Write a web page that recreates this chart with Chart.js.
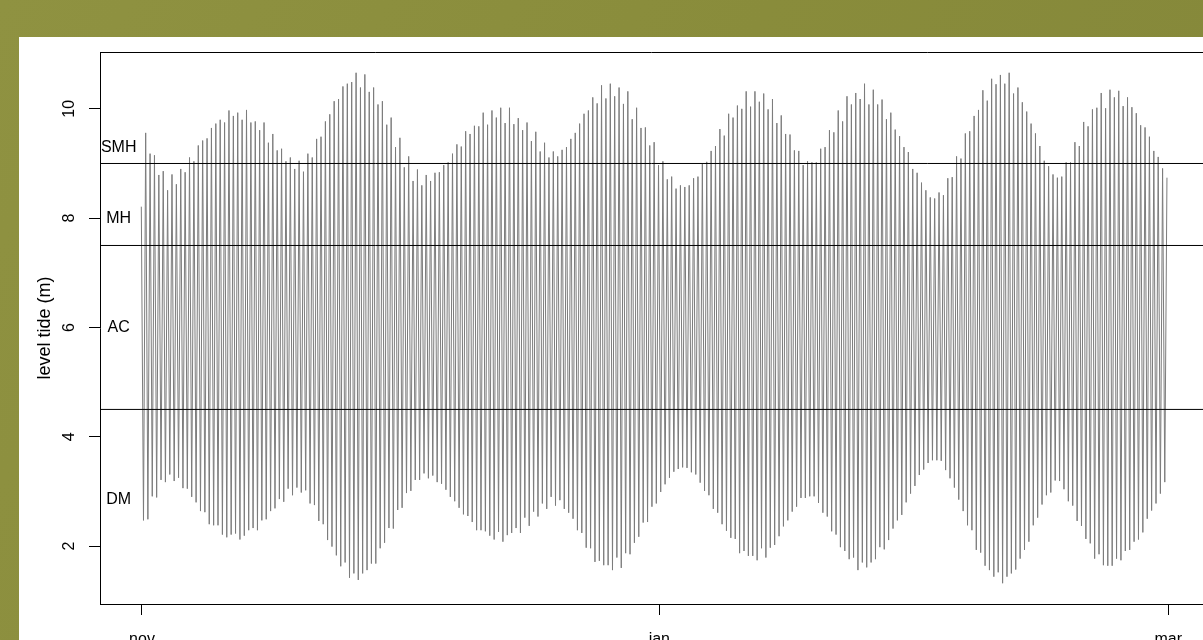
<!DOCTYPE html>
<html>
<head>
<meta charset="utf-8">
<script src="https://cdn.jsdelivr.net/npm/chart.js@4.4.0/dist/chart.umd.min.js"></script>
<style>
html, body { margin: 0; padding: 0; overflow: hidden; background: #8b8e3e; }
#wrap { width: 1203px; height: 640px; }
</style>
</head>
<body>
<div id="wrap"><canvas id="graphCanvasTide" width="1203" height="640"></canvas></div>
<script>
// high water of each tide cycle (m)
var highTides = [
    8.21, 9.56, 9.18, 9.15, 8.79, 8.86, 8.51, 8.80, 8.62, 8.90,
    8.84, 9.11, 9.04, 9.33, 9.42, 9.46, 9.65, 9.73, 9.80, 9.75,
    9.97, 9.87, 9.93, 9.80, 9.98, 9.75, 9.77, 9.61, 9.75, 9.38,
    9.54, 9.24, 9.27, 9.04, 9.11, 8.90, 9.05, 8.85, 9.18, 9.11,
    9.45, 9.49, 9.77, 9.90, 10.14, 10.18, 10.41, 10.46, 10.49, 10.66,
    10.39, 10.63, 10.31, 10.39, 10.08, 10.14, 9.71, 9.84, 9.30, 9.47,
    8.93, 9.13, 8.68, 8.89, 8.60, 8.79, 8.68, 8.83, 8.84, 8.97,
    9.02, 9.18, 9.35, 9.31, 9.59, 9.54, 9.69, 9.68, 9.93,
    9.71, 9.97, 9.84, 10.02, 9.74, 10.02, 9.72, 9.83, 9.61, 9.75,
    9.41, 9.58, 9.22, 9.38, 9.11, 9.22, 9.13, 9.25, 9.30, 9.45,
    9.56, 9.73, 9.91, 9.97, 10.21, 10.10, 10.43, 10.19, 10.46, 10.23,
    10.39, 10.09, 10.32, 9.81, 10.02, 9.65, 9.66, 9.33, 9.39, 8.97,
    9.04, 8.71, 8.76, 8.54, 8.60, 8.57, 8.60, 8.73, 8.76, 8.99,
    9.03, 9.23, 9.32, 9.63, 9.51, 9.91, 9.84, 10.06, 10.00, 10.32,
    10.04, 10.32, 10.13, 10.28, 9.99, 10.18, 9.74, 9.88, 9.54, 9.53,
    9.24, 9.23, 8.97, 9.04, 9.02, 9.02, 9.27, 9.30, 9.61,
    9.57, 9.97, 9.77, 10.23, 10.08, 10.29, 10.18, 10.46, 10.08, 10.35,
    10.08, 10.17, 9.81, 9.93, 9.62, 9.50, 9.30, 9.21, 8.90, 8.83,
    8.65, 8.51, 8.38, 8.36, 8.47, 8.42, 8.73, 8.75, 9.13, 9.09,
    9.55, 9.59, 9.87, 9.98, 10.34, 10.15, 10.55, 10.45, 10.62, 10.46,
    10.66, 10.28, 10.39, 10.12, 9.95, 9.73, 9.55, 9.32, 9.05, 8.95,
    8.80, 8.74, 8.76, 9.02, 9.02, 9.39, 9.32, 9.76, 9.68, 9.99,
    10.02, 10.29, 10.01, 10.35, 10.21, 10.33, 10.05, 10.21, 10.03, 9.92,
    9.70, 9.66, 9.49, 9.23, 9.12, 8.91, 8.74
];

// low water following each high (m)
var lowTides = [
    2.47, 2.49, 2.91, 2.89, 3.21, 3.17, 3.31, 3.19, 3.25, 3.06,
    3.05, 2.90, 2.80, 2.64, 2.62, 2.40, 2.38, 2.38, 2.21, 2.16,
    2.21, 2.23, 2.12, 2.19, 2.29, 2.33, 2.29, 2.47, 2.49, 2.64,
    2.69, 2.86, 2.81, 3.05, 2.93, 3.07, 2.98, 3.02, 2.78, 2.75,
    2.46, 2.40, 2.11, 1.99, 1.83, 1.63, 1.70, 1.42, 1.50, 1.38,
    1.50, 1.56, 1.68, 1.68, 1.96, 2.06, 2.33, 2.32, 2.66, 2.70,
    2.97, 3.01, 3.21, 3.21, 3.33, 3.24, 3.29, 3.17, 3.14, 3.03,
    2.90, 2.82, 2.70, 2.58, 2.55, 2.44, 2.29, 2.29, 2.27,
    2.19, 2.12, 2.26, 2.08, 2.20, 2.24, 2.33, 2.24, 2.52, 2.37,
    2.63, 2.54, 2.78, 2.68, 2.90, 2.74, 2.84, 2.68, 2.61, 2.50,
    2.29, 2.24, 1.97, 1.96, 1.71, 1.73, 1.65, 1.65, 1.56, 1.79,
    1.60, 1.87, 1.85, 2.06, 2.17, 2.43, 2.44, 2.72, 2.78, 2.99,
    3.13, 3.25, 3.36, 3.41, 3.44, 3.43, 3.35, 3.31, 3.16, 3.01,
    2.93, 2.68, 2.61, 2.40, 2.28, 2.15, 2.13, 1.87, 1.91, 1.82,
    1.82, 1.74, 1.96, 1.79, 1.97, 2.02, 2.18, 2.36, 2.47, 2.63,
    2.72, 2.88, 2.88, 2.91, 2.91, 2.79, 2.61, 2.54, 2.27,
    2.21, 1.98, 1.91, 1.76, 1.79, 1.56, 1.70, 1.61, 1.70, 1.76,
    1.98, 1.94, 2.11, 2.32, 2.47, 2.57, 2.80, 2.96, 3.10, 3.30,
    3.40, 3.52, 3.57, 3.57, 3.56, 3.39, 3.24, 3.07, 2.85, 2.64,
    2.38, 2.29, 1.93, 1.88, 1.64, 1.56, 1.44, 1.52, 1.32, 1.44,
    1.50, 1.57, 1.77, 1.93, 2.08, 2.38, 2.52, 2.76, 2.93, 2.98,
    3.20, 3.19, 3.04, 2.82, 2.74, 2.46, 2.37, 2.13, 2.05, 1.77,
    1.85, 1.65, 1.64, 1.64, 1.77, 1.74, 1.91, 1.93, 2.08, 2.12,
    2.25, 2.50, 2.65, 2.78, 2.96, 3.17
];

// reference levels and their names
var levelLines = [9, 7.5, 4.5];
var levelNames = ['SMH', 'MH', 'AC', 'DM'];
var levelNameY = [9.3, 8.0, 6.0, 2.85];

// axis ticks (days since 1 nov)
var monthTicks = [0, 61, 121];
var monthLabels = ['nov', 'jan', 'mar'];
var levelTicks = [2, 4, 6, 8, 10];

var firstDay = -0.08;      // time of first high water
var halfCycle = 0.2584;    // days between high and low water
var xMin = -4.95, xMax = 125.1;
var yMin = 0.94, yMax = 11.04;
var labelDay = -2.75;
var FONT = '"Liberation Sans", Arial, Helvetica, sans-serif';

$ready(function () {
    showGraphTide();
});

function $ready(fn) {
    if (document.readyState !== 'loading') fn();
    else document.addEventListener('DOMContentLoaded', fn);
}

function showGraphTide() {
    var tidePoints = [];
    for (var i = 0; i < highTides.length; i++) {
        tidePoints.push({ x: firstDay + 2 * i * halfCycle, y: highTides[i] });
        if (i < lowTides.length) {
            tidePoints.push({ x: firstDay + (2 * i + 1) * halfCycle, y: lowTides[i] });
        }
    }

    var datasets = [{
        label: 'level tide',
        data: tidePoints,
        borderColor: '#7c7c7c',
        borderWidth: 1,
        pointRadius: 0,
        tension: 0,
        order: 2
    }];
    levelLines.forEach(function (v) {
        datasets.push({
            label: 'lvl ' + v,
            data: [{ x: xMin, y: v }, { x: xMax, y: v }],
            borderColor: '#000',
            borderWidth: 1,
            pointRadius: 0,
            order: 1
        });
    });

    // page background, plot box top, rotated y labels and level names
    var frame = {
        id: 'frame',
        beforeDraw: function (chart) {
            var ctx = chart.ctx;
            ctx.save();
            var g = ctx.createLinearGradient(0, 0, chart.width, chart.height);
            g.addColorStop(0, '#8f9241');
            g.addColorStop(0.5, '#898c3b');
            g.addColorStop(1, '#84873a');
            ctx.fillStyle = g;
            ctx.fillRect(0, 0, chart.width, chart.height);
            ctx.fillStyle = '#ffffff';
            ctx.fillRect(19, 37, chart.width - 19, chart.height - 37);
            ctx.restore();
        },
        afterDraw: function (chart) {
            var ctx = chart.ctx, a = chart.chartArea;
            var xs = chart.scales.x, ys = chart.scales.y;
            ctx.save();
            ctx.strokeStyle = '#000';
            ctx.lineWidth = 1;
            ctx.beginPath();
            ctx.moveTo(a.left, Math.round(a.top) + 0.5);
            ctx.lineTo(a.right, Math.round(a.top) + 0.5);
            ctx.stroke();

            ctx.fillStyle = '#000';
            ctx.font = '16px ' + FONT;
            ctx.textAlign = 'center';
            ctx.textBaseline = 'alphabetic';
            levelTicks.forEach(function (v) {
                ctx.save();
                ctx.translate(74, ys.getPixelForValue(v));
                ctx.rotate(-Math.PI / 2);
                ctx.fillText(String(v), 0, 0);
                ctx.restore();
            });

            ctx.textBaseline = 'middle';
            levelNames.forEach(function (n, i) {
                ctx.fillText(n, xs.getPixelForValue(labelDay), ys.getPixelForValue(levelNameY[i]));
            });
            ctx.restore();
        }
    };

    var graphTarget = document.getElementById('graphCanvasTide');
    new Chart(graphTarget, {
        type: 'line',
        data: { datasets: datasets },
        options: {
            responsive: false,
            animation: false,
            events: [],
            layout: { padding: { top: 52, left: 0, right: 0, bottom: 0 } },
            plugins: { legend: { display: false }, tooltip: { enabled: false } },
            scales: {
                x: {
                    type: 'linear',
                    min: xMin,
                    max: xMax,
                    afterBuildTicks: function (s) {
                        s.ticks = monthTicks.map(function (v) { return { value: v }; });
                    },
                    afterFit: function (s) { s.height = 36; },
                    ticks: {
                        autoSkip: false,
                        maxRotation: 0,
                        padding: 15,
                        color: '#000',
                        font: { size: 16, family: FONT },
                        callback: function (v) {
                            var k = monthTicks.indexOf(v);
                            return k >= 0 ? monthLabels[k] : '';
                        }
                    },
                    grid: { drawOnChartArea: false, drawTicks: true, tickLength: 11, color: '#000' },
                    border: { display: true, color: '#000', width: 1 }
                },
                y: {
                    type: 'linear',
                    min: yMin,
                    max: yMax,
                    afterBuildTicks: function (s) {
                        s.ticks = levelTicks.map(function (v) { return { value: v }; });
                    },
                    afterFit: function (s) { s.width = 100; },
                    ticks: { display: false },
                    grid: { drawOnChartArea: false, drawTicks: true, tickLength: 11, color: '#000' },
                    border: { display: true, color: '#000', width: 1 },
                    title: {
                        display: true,
                        text: 'level tide (m)',
                        color: '#000',
                        font: { size: 18, family: FONT },
                        padding: { top: 34, bottom: 0 }
                    }
                }
            }
        },
        plugins: [frame]
    });
}
</script>
</body>
</html>
